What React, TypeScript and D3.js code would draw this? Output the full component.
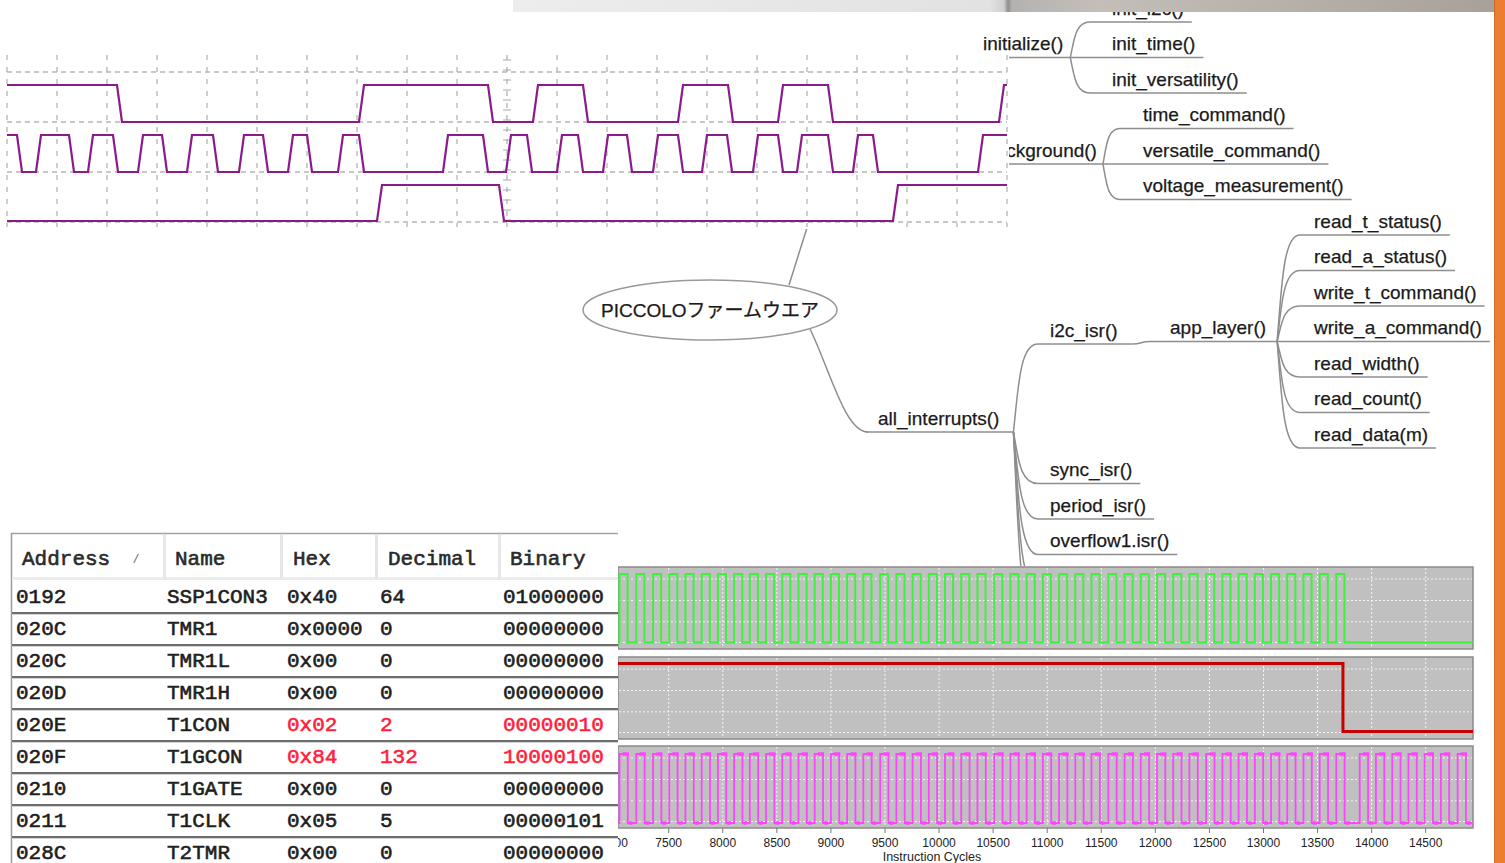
import React, { useEffect, useRef } from 'react'
import * as d3 from 'd3'

const W = 1505
const H = 863

// top logic analyser capture, edge times in grid divisions
const traceDivs = 20
const trace1Edges = [2.2, 7.04, 9.62, 10.52, 11.52, 13.42, 14.42, 15.42, 16.42, 19.84]
const trace2Edges = [0.2, 0.58, 1.24, 1.62, 2.12, 2.62, 3.1, 3.6, 4.12, 4.64, 5.12, 5.62, 6.0, 6.62, 7.04,
  8.72, 9.52, 9.98, 10.4, 11.0, 11.42, 11.92, 12.4, 12.92, 13.42, 13.9, 14.4, 14.92, 15.42, 15.8,
  16.42, 16.92, 17.32, 19.42]
const trace3Edges = [7.4, 9.84, 17.72]
const traceStartLevels = [1, 1, 0]

// mind map
const rootLabel = 'PICCOLOファームウエア'
const branchLabels = ['initialize()', 'background()', 'all_interrupts()']
const initChildren = ['init_i2c()', 'init_time()', 'init_versatility()']
const backgroundChildren = ['time_command()', 'versatile_command()', 'voltage_measurement()']
const interruptChildren = ['i2c_isr()', 'sync_isr()', 'period_isr()', 'overflow1.isr()']
const appLayerLabel = 'app_layer()'
const appLayerChildren = ['read_t_status()', 'read_a_status()', 'write_t_command()', 'write_a_command()',
  'read_width()', 'read_count()', 'read_data(m)']

// register watch table
const tableHeaders = ['Address', 'Name', 'Hex', 'Decimal', 'Binary']
const addresses = ['0192', '020C', '020C', '020D', '020E', '020F', '0210', '0211', '028C']
const regNames = ['SSP1CON3', 'TMR1', 'TMR1L', 'TMR1H', 'T1CON', 'T1GCON', 'T1GATE', 'T1CLK', 'T2TMR']
const hexValues = ['0x40', '0x0000', '0x00', '0x00', '0x02', '0x84', '0x00', '0x05', '0x00']
const decValues = ['64', '0', '0', '0', '2', '132', '0', '5', '0']
const binValues = ['01000000', '00000000', '00000000', '00000000', '00000010', '10000100', '00000000', '00000101', '00000000']
const changedRows = [4, 5]

// simulator logic analyser (instruction cycles)
const cycleTicks = [7000, 7500, 8000, 8500, 9000, 9500, 10000, 10500, 11000, 11500, 12000, 12500, 13000, 13500, 14000, 14500]
const greenRises = [7045, 7200, 7355, 7505, 7655, 7805, 7955, 8105, 8250, 8400, 8550, 8700, 8850, 9000, 9150,
  9300, 9455, 9605, 9755, 9905, 10055, 10205, 10355, 10510, 10660, 10810, 10960, 11110, 11260, 11410,
  11565, 11715, 11865, 12015, 12165, 12315, 12470, 12620, 12770, 12920, 13070, 13220, 13370, 13520, 13673]
const greenHigh = 75
const redFallAt = 13735
const magentaRises = [...greenRises, 13890, 14040, 14190, 14340, 14490, 14640, 14795]
const magentaHigh = 77

const sans = '"Liberation Sans", Arial, "Noto Sans CJK JP", sans-serif'
const mono = '"Liberation Mono", "DejaVu Sans Mono", monospace'
const mapLine = '#8e8e8e'

function branchPath (jx, jy, cx, cy) {
  const w = cx - jx
  const dy = cy - jy
  return 'M' + jx + ',' + jy + 'C' + (jx + 0.2 * w) + ',' + (jy + 0.5 * dy) + ' ' + (jx + 0.25 * w) + ',' + cy + ' ' + cx + ',' + cy
}

function drawMindMap (g) {
  const rowY = (r) => 22 + 35.5 * r

  const label = (text, x, lineY) => g.append('text')
    .attr('x', x).attr('y', lineY - 7.5)
    .attr('font-family', sans).attr('font-size', 19).attr('fill', '#1a1a1a')
    .attr('stroke', '#1a1a1a').attr('stroke-width', 0.25)
    .text(text)
  const endOf = (t) => +t.attr('x') + t.node().getComputedTextLength()
  const hline = (x1, x2, y) => g.append('line')
    .attr('x1', x1).attr('x2', x2).attr('y1', y).attr('y2', y)
    .attr('stroke', mapLine).attr('stroke-width', 1.5)
  const curve = (jx, jy, cx, cy) => g.append('path')
    .attr('d', branchPath(jx, jy, cx, cy))
    .attr('fill', 'none').attr('stroke', mapLine).attr('stroke-width', 1.5)

  // parent with its leaf children
  const group = (parent, px, py, lineFrom, pad, kids, firstRow, kidLineX, kidTextX) => {
    const t = label(parent, px, py)
    const jx = endOf(t) + pad
    hline(lineFrom, jx, py)
    kids.forEach((k, i) => {
      const cy = rowY(firstRow + i)
      curve(jx, py, kidLineX, cy)
      const kt = label(k, kidTextX, cy)
      hline(kidLineX, endOf(kt) + 8, cy)
    })
  }

  // root ellipse and its links
  g.append('line').attr('x1', 789).attr('y1', 285).attr('x2', 822).attr('y2', 180)
    .attr('stroke', mapLine).attr('stroke-width', 1.5)
  g.append('path').attr('d', 'M810,329C830,370 845,432 868,432')
    .attr('fill', 'none').attr('stroke', mapLine).attr('stroke-width', 1.5)
  g.append('ellipse').attr('cx', 710).attr('cy', 310).attr('rx', 127).attr('ry', 30)
    .attr('fill', '#fff').attr('stroke', '#9a9a9a').attr('stroke-width', 1.5)
  g.append('text').attr('x', 710).attr('y', 317).attr('text-anchor', 'middle')
    .attr('font-family', sans).attr('font-size', 19).attr('fill', '#1a1a1a')
    .attr('stroke', '#1a1a1a').attr('stroke-width', 0.25)
    .text(rootLabel)

  group(branchLabels[0], 983, rowY(1), 940, 7, initChildren, 0, 1090, 1112)
  group(branchLabels[1], 985, rowY(4), 940, 6, backgroundChildren, 3, 1120, 1143)

  // all_interrupts and its children
  const aiY = 432
  const ai = label(branchLabels[2], 878, aiY)
  const aj = endOf(ai) + 14
  hline(866, aj, aiY)
  const i2cY = 344
  curve(aj, aiY, 1038, i2cY)
  const i2c = label(interruptChildren[0], 1050, i2cY)
  const i2cEnd = endOf(i2c) + 15
  hline(1038, i2cEnd, i2cY)
  interruptChildren.slice(1).forEach((k, i) => {
    const cy = rowY(13 + i)
    curve(aj, aiY, 1038, cy)
    const kt = label(k, 1050, cy)
    hline(1038, endOf(kt) + 8, cy)
  })
  // further branches continue below, hidden by the simulator window
  curve(aj, aiY, 1038, rowY(16))
  curve(aj, aiY, 1038, rowY(17))

  const appY = rowY(9)
  g.append('path').attr('d', d3.linkHorizontal()({ source: [i2cEnd, i2cY], target: [1150, appY] }))
    .attr('fill', 'none').attr('stroke', mapLine).attr('stroke-width', 1.5)
  group(appLayerLabel, 1170, appY, 1150, 11, appLayerChildren, 6, 1300, 1314)
}

function edgePoints (edges, start, slope, end) {
  let lvl = start
  const pts = [[0, lvl]]
  edges.forEach((e) => {
    pts.push([e, lvl])
    lvl = 1 - lvl
    pts.push([e + slope, lvl])
  })
  pts.push([end, lvl])
  return pts
}

function drawTraces (g) {
  const tx = d3.scaleLinear().domain([0, traceDivs]).range([7, 1007])
  const levels = [[122, 85], [172, 135], [221, 185]]
  const grid = '#b5b5b5'

  g.append('rect').attr('x', 0).attr('y', 53).attr('width', 1009).attr('height', 176).attr('fill', '#fff')

  g.selectAll('.vgrid').data(d3.range(0, traceDivs + 1)).enter().append('line')
    .attr('x1', (d) => tx(d)).attr('x2', (d) => tx(d))
    .attr('y1', 55).attr('y2', 227)
    .attr('stroke', grid).attr('stroke-width', 1.3).attr('stroke-dasharray', '5,7')
  g.selectAll('.hgrid').data([72, 122, 172, 222]).enter().append('line')
    .attr('x1', tx(0)).attr('x2', tx(traceDivs))
    .attr('y1', (d) => d).attr('y2', (d) => d)
    .attr('stroke', grid).attr('stroke-width', 1.3).attr('stroke-dasharray', '5,4')

  // cursor ruler
  g.selectAll('.cur').data(d3.range(60, 222, 10)).enter().append('line')
    .attr('x1', tx(10) - 4).attr('x2', tx(10) + 4)
    .attr('y1', (d) => d).attr('y2', (d) => d)
    .attr('stroke', '#a8a8a8').attr('stroke-width', 1)

  const traces = [trace1Edges, trace2Edges, trace3Edges]
  traces.forEach((edges, i) => {
    const lv = levels[i]
    const line = d3.line().x((d) => tx(d[0])).y((d) => lv[d[1]])
    g.append('path')
      .attr('d', line(edgePoints(edges, traceStartLevels[i], 0.1, traceDivs)))
      .attr('fill', 'none').attr('stroke', '#8c1a8c').attr('stroke-width', 2.2)
      .attr('stroke-linejoin', 'miter')
  })
}

function pulsePoints (rises, high, x0, x1) {
  const pts = [[x0, 0]]
  rises.forEach((r) => {
    pts.push([r, 0], [r, 1], [r + high, 1], [r + high, 0])
  })
  pts.push([x1, 0])
  return pts
}

function drawSim (g, defs) {
  const sx = d3.scaleLinear().domain([7500, 14500]).range([668.7, 1425.7])
  const px0 = 618
  const px1 = 1473
  const v0 = sx.invert(px0)
  const v1 = sx.invert(px1)
  const panels = [567, 657, 746]
  const ph = 82

  g.append('rect').attr('x', px0).attr('y', 566).attr('width', 880).attr('height', 300).attr('fill', '#fff')

  defs.append('clipPath').attr('id', 'simclip').append('rect')
    .attr('x', px0).attr('y', 560).attr('width', px1 - px0).attr('height', 280)

  panels.forEach((top) => {
    g.append('rect').attr('x', px0).attr('y', top).attr('width', px1 - px0).attr('height', ph)
      .attr('fill', '#c0c0c0').attr('stroke', '#8a8a8a').attr('stroke-width', 1.5)
    g.selectAll(null).data([12, 33.5, 54.8, 75.5]).enter().append('line')
      .attr('x1', px0 + 1).attr('x2', px1 - 1)
      .attr('y1', (d) => top + d).attr('y2', (d) => top + d)
      .attr('stroke', '#f4f4f4').attr('stroke-width', 1).attr('stroke-dasharray', '2,2')
    g.selectAll(null).data(cycleTicks.filter((t) => sx(t) > px0 && sx(t) < px1)).enter().append('line')
      .attr('x1', (d) => sx(d)).attr('x2', (d) => sx(d))
      .attr('y1', top + 1).attr('y2', top + ph - 1)
      .attr('stroke', '#f4f4f4').attr('stroke-width', 1).attr('stroke-dasharray', '2,2')
  })

  const sig = g.append('g').attr('clip-path', 'url(#simclip)')

  const gy = (d) => (d ? panels[0] + 7 : panels[0] + 75.5)
  sig.append('path')
    .attr('d', d3.line().x((d) => sx(d[0])).y((d) => gy(d[1]))(pulsePoints(greenRises, greenHigh, v0, v1)))
    .attr('fill', 'none').attr('stroke', '#3cf23c').attr('stroke-width', 2)

  const ry = (d) => (d ? panels[1] + 6.5 : panels[1] + 74.5)
  sig.append('path')
    .attr('d', d3.line().x((d) => sx(d[0])).y((d) => ry(d[1]))([[v0, 1], [redFallAt, 1], [redFallAt, 0], [v1, 0]]))
    .attr('fill', 'none').attr('stroke', '#c40000').attr('stroke-width', 3)

  const my = (d) => (d ? panels[2] + 8 : panels[2] + 77)
  sig.append('path')
    .attr('d', d3.line().x((d) => sx(d[0])).y((d) => my(d[1]))(pulsePoints(magentaRises, magentaHigh, v0, v1)))
    .attr('fill', 'none').attr('stroke', '#ff44ff').attr('stroke-width', 1.8)
  // thicker plateaus the simulator draws at each edge
  sig.selectAll(null).data(magentaRises).enter().append('line')
    .attr('x1', (d) => sx(d + 30)).attr('x2', (d) => sx(d + magentaHigh + 10))
    .attr('y1', my(1)).attr('y2', my(1))
    .attr('stroke', '#ff44ff').attr('stroke-width', 3.5)
  sig.selectAll(null).data(magentaRises).enter().append('line')
    .attr('x1', (d) => sx(d + magentaHigh + 8)).attr('x2', (d) => sx(d + magentaHigh + 45))
    .attr('y1', my(0)).attr('y2', my(0))
    .attr('stroke', '#ff44ff').attr('stroke-width', 3.5)

  const bottom = panels[2] + ph
  g.selectAll(null).data(cycleTicks).enter().append('line')
    .attr('x1', (d) => sx(d)).attr('x2', (d) => sx(d))
    .attr('y1', bottom).attr('y2', bottom + 5)
    .attr('stroke', '#777').attr('stroke-width', 1)
  g.selectAll(null).data(cycleTicks).enter().append('text')
    .attr('x', (d) => sx(d)).attr('y', 847)
    .attr('text-anchor', 'middle')
    .attr('font-family', sans).attr('font-size', 12).attr('fill', '#222')
    .text((d) => d)
  g.append('text').attr('x', 932).attr('y', 861).attr('text-anchor', 'middle')
    .attr('font-family', sans).attr('font-size', 12.5).attr('fill', '#222')
    .text('Instruction Cycles')
}

function drawTable (g, defs) {
  defs.append('clipPath').attr('id', 'tblclip').append('rect')
    .attr('x', 0).attr('y', 520).attr('width', 618).attr('height', 350)
  const t = g.append('g').attr('clip-path', 'url(#tblclip)')
  const colX = [16, 167, 287, 380, 503]
  const headX = [22, 175, 293, 388, 510]
  const sepX = [163, 280, 375, 498]
  const rowTop = 580
  const rowH = 32

  t.append('rect').attr('x', 11).attr('y', 533).attr('width', 620).attr('height', 340).attr('fill', '#fff')
  t.append('line').attr('x1', 11).attr('x2', 640).attr('y1', 533.5).attr('y2', 533.5)
    .attr('stroke', '#a2a2a2').attr('stroke-width', 1.5)
  t.append('line').attr('x1', 11.5).attr('x2', 11.5).attr('y1', 533).attr('y2', H)
    .attr('stroke', '#9c9c9c').attr('stroke-width', 1.5)
  t.append('rect').attr('x', 12).attr('y', 577).attr('width', 620).attr('height', 3).attr('fill', '#ececec')
  t.selectAll(null).data(sepX).enter().append('rect')
    .attr('x', (d) => d).attr('y', 535).attr('width', 3).attr('height', 45)
    .attr('fill', '#e6e6e6')

  t.selectAll(null).data(tableHeaders).enter().append('text')
    .attr('x', (d, i) => headX[i]).attr('y', 565)
    .attr('font-family', mono).attr('font-size', 21).attr('fill', '#2a2a2a')
    .attr('stroke', '#2a2a2a').attr('stroke-width', 0.6)
    .text((d) => d)
  t.append('text').attr('x', 134).attr('y', 563)
    .attr('font-family', sans).attr('font-size', 13).attr('font-style', 'italic').attr('fill', '#666')
    .text('/')

  t.selectAll(null).data(d3.range(1, addresses.length)).enter().append('line')
    .attr('x1', 12).attr('x2', 640)
    .attr('y1', (d) => rowTop + rowH * d + 1).attr('y2', (d) => rowTop + rowH * d + 1)
    .attr('stroke', '#6e6e6e').attr('stroke-width', 2)
  t.selectAll(null).data(d3.range(1, addresses.length)).enter().append('line')
    .attr('x1', 12).attr('x2', 640)
    .attr('y1', (d) => rowTop + rowH * d + 2.5).attr('y2', (d) => rowTop + rowH * d + 2.5)
    .attr('stroke', '#d4d4d4').attr('stroke-width', 1)

  const cols = [addresses, regNames, hexValues, decValues, binValues]
  cols.forEach((col, c) => {
    const fill = (d, i) => (c >= 2 && changedRows.includes(i) ? '#ff1f3d' : '#1e1e1e')
    t.selectAll(null).data(col).enter().append('text')
      .attr('x', colX[c]).attr('y', (d, i) => rowTop + 23 + rowH * i)
      .attr('font-family', mono).attr('font-size', 21)
      .attr('fill', fill).attr('stroke', fill).attr('stroke-width', 0.6)
      .text((d) => d)
  })
}

function drawFrame (g, defs) {
  const grad = defs.append('linearGradient').attr('id', 'topbar')
    .attr('gradientUnits', 'userSpaceOnUse').attr('x1', 513).attr('x2', 1495).attr('y1', 0).attr('y2', 0)
  const stops = [[513, '#ededed'], [990, '#e2e2e2'], [1004, '#cfcfcf'], [1008, '#8e8e8e'], [1012, '#b4b2b0'],
    [1100, '#c4beb9'], [1250, '#b9b3ae'], [1495, '#a8a19b']]
  stops.forEach((s) => {
    grad.append('stop').attr('offset', (s[0] - 513) / (1495 - 513)).attr('stop-color', s[1])
  })
  g.append('rect').attr('x', 513).attr('y', 0).attr('width', 982).attr('height', 12).attr('fill', 'url(#topbar)')
  g.append('rect').attr('x', 1494).attr('y', 0).attr('width', 11).attr('height', H).attr('fill', '#ed7d31')
  g.append('line').attr('x1', 1494.5).attr('x2', 1494.5).attr('y1', 0).attr('y2', H)
    .attr('stroke', '#c96a2c').attr('stroke-width', 1)
}

export default function App () {
  const ref = useRef(null)

  useEffect(() => {
    const svg = d3.select(ref.current)
    svg.selectAll('*').remove()
    const defs = svg.append('defs')
    drawMindMap(svg.append('g'))
    drawTraces(svg.append('g'))
    drawSim(svg.append('g'), defs)
    drawTable(svg.append('g'), defs)
    drawFrame(svg.append('g'), defs)
  }, [])

  return (
    <svg ref={ref} width={W} height={H}
      style={{ position: 'absolute', left: 0, top: 0, background: '#fff' }} />
  )
}
